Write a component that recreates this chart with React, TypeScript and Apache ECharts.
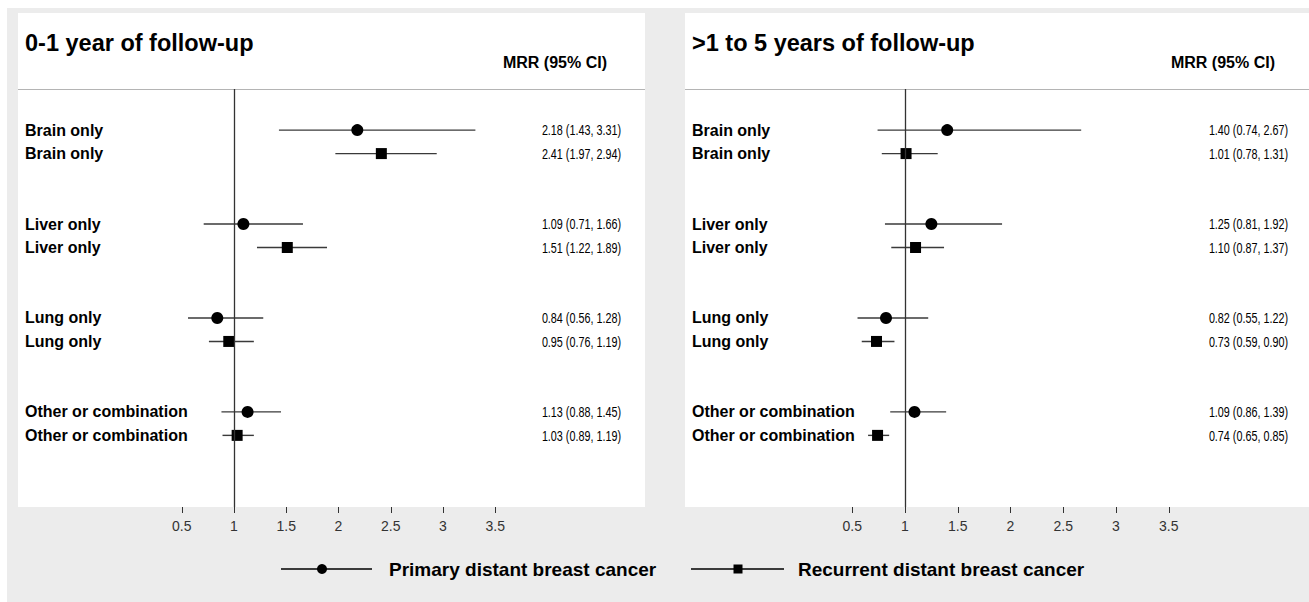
import React, { useEffect, useRef } from "react";
import * as echarts from "echarts";

// ---- data ----
const categories = ["Brain only", "Liver only", "Lung only", "Other or combination"];
const groups = ["Primary distant breast cancer", "Recurrent distant breast cancer"];
const panelTitles = ["0-1 year of follow-up", ">1 to 5 years of follow-up"];
const columnHeader = "MRR (95% CI)";
const xTicks = [0.5, 1, 1.5, 2, 2.5, 3, 3.5];

// 0-1 year
const early_primary_mrr = [2.18, 1.09, 0.84, 1.13];
const early_primary_lo = [1.43, 0.71, 0.56, 0.88];
const early_primary_hi = [3.31, 1.66, 1.28, 1.45];
const early_recurrent_mrr = [2.41, 1.51, 0.95, 1.03];
const early_recurrent_lo = [1.97, 1.22, 0.76, 0.89];
const early_recurrent_hi = [2.94, 1.89, 1.19, 1.19];

// >1 to 5 years
const late_primary_mrr = [1.40, 1.25, 0.82, 1.09];
const late_primary_lo = [0.74, 0.81, 0.55, 0.86];
const late_primary_hi = [2.67, 1.92, 1.22, 1.39];
const late_recurrent_mrr = [1.01, 1.10, 0.73, 0.74];
const late_recurrent_lo = [0.78, 0.87, 0.59, 0.65];
const late_recurrent_hi = [1.31, 1.37, 0.90, 0.85];

const panels = [
  {
    est: [early_primary_mrr, early_recurrent_mrr],
    lo: [early_primary_lo, early_recurrent_lo],
    hi: [early_primary_hi, early_recurrent_hi],
  },
  {
    est: [late_primary_mrr, late_recurrent_mrr],
    lo: [late_primary_lo, late_recurrent_lo],
    hi: [late_primary_hi, late_recurrent_hi],
  },
];

// ---- layout ----
const FONT = '"Liberation Sans", Arial, Helvetica, sans-serif';
const INK = "#333333";
const layout = [
  { panelX: 18, panelW: 627, gridLeft: 129.5, gridW: 418, labelX: 25, valueRight: 621, headerRight: 607 },
  { panelX: 685, panelW: 624, gridLeft: 799.5, gridW: 422, labelX: 692, valueRight: 1288, headerRight: 1275 },
];
const panelTop = 13;
const panelBottom = 507;
const gridTop = 89;

const fmt = (v: number) => v.toFixed(2);

export default function App() {
  const ref = useRef<HTMLDivElement>(null);
  useEffect(() => {
    if (!ref.current) return;
    const chart = echarts.init(ref.current, undefined, { renderer: "svg" });

    const grids: any[] = [];
    const xAxes: any[] = [];
    const yAxes: any[] = [];
    const series: any[] = [];
    const graphics: any[] = [];

    graphics.push({
      type: "rect",
      shape: { x: 7, y: 8, width: 1302, height: 594 },
      style: { fill: "#ececec" },
      z: -10,
    });

    layout.forEach((L, pi) => {
      graphics.push({
        type: "rect",
        shape: { x: L.panelX, y: panelTop, width: L.panelW, height: panelBottom - panelTop },
        style: { fill: "#ffffff" },
        z: -9,
      });
      graphics.push({
        type: "line",
        shape: { x1: L.panelX, y1: gridTop + 0.5, x2: L.panelX + L.panelW, y2: gridTop + 0.5 },
        style: { stroke: "#b4b4b4", lineWidth: 1 },
        z: -8,
      });
      graphics.push({
        type: "text",
        x: L.labelX,
        y: 43,
        style: {
          text: panelTitles[pi],
          fontFamily: FONT,
          fontWeight: "bold",
          fontSize: 23.5,
          fill: "#000",
          verticalAlign: "middle",
          align: "left",
        },
      });
      graphics.push({
        type: "text",
        x: L.headerRight,
        y: 62,
        style: {
          text: columnHeader,
          fontFamily: FONT,
          fontWeight: "bold",
          fontSize: 16,
          fill: "#000",
          verticalAlign: "middle",
          align: "right",
        },
      });

      grids.push({ left: L.gridLeft, width: L.gridW, top: gridTop, height: panelBottom - gridTop });
      xAxes.push({
        type: "value",
        gridIndex: pi,
        position: "bottom",
        min: 0,
        max: 4,
        interval: 0.5,
        splitLine: { show: false },
        axisLine: { show: false, onZero: false },
        axisTick: { show: true, customValues: xTicks, length: 6, lineStyle: { color: INK, width: 1 } },
        axisLabel: {
          show: true,
          customValues: xTicks,
          formatter: (v: number) => String(v),
          fontFamily: FONT,
          fontSize: 14,
          color: INK,
          margin: 12,
        },
      });
      yAxes.push({
        type: "value",
        gridIndex: pi,
        inverse: true,
        min: -1.75,
        max: 16.05,
        show: false,
      });

      const P = panels[pi];
      const rows: number[][] = [];
      const meta: { cat: number; g: number }[] = [];
      categories.forEach((_, ci) => {
        groups.forEach((__, g) => {
          rows.push([P.est[g][ci], P.lo[g][ci], P.hi[g][ci], ci * 4 + g, g]);
          meta.push({ cat: ci, g });
        });
      });

      series.push({
        type: "custom",
        xAxisIndex: pi,
        yAxisIndex: pi,
        clip: false,
        data: rows,
        renderItem: (params: any, api: any) => {
          const est = api.value(0);
          const lo = api.value(1);
          const hi = api.value(2);
          const pos = api.value(3);
          const g = api.value(4);
          const m = meta[params.dataIndex];
          const pLo = api.coord([lo, pos]);
          const pHi = api.coord([hi, pos]);
          const pE = api.coord([est, pos]);
          const children: any[] = [
            {
              type: "line",
              shape: { x1: pLo[0], y1: pE[1], x2: pHi[0], y2: pE[1] },
              style: { stroke: "#3a3a3a", lineWidth: 1.4 },
            },
            g === 0
              ? { type: "circle", shape: { cx: pE[0], cy: pE[1], r: 6 }, style: { fill: "#000" } }
              : { type: "rect", shape: { x: pE[0] - 5.5, y: pE[1] - 5.5, width: 11, height: 11 }, style: { fill: "#000" } },
            {
              type: "text",
              x: L.labelX,
              y: pE[1],
              style: {
                text: categories[m.cat],
                fontFamily: FONT,
                fontWeight: "bold",
                fontSize: 16,
                fill: "#000",
                verticalAlign: "middle",
                align: "left",
              },
            },
            {
              type: "text",
              x: L.valueRight,
              y: pE[1],
              scaleX: 0.72,
              style: {
                text: `${fmt(est)} (${fmt(lo)}, ${fmt(hi)})`,
                fontFamily: FONT,
                fontSize: 15,
                fill: "#000",
                verticalAlign: "middle",
                align: "right",
              },
            },
          ];
          return { type: "group", children };
        },
        markLine: {
          silent: true,
          symbol: "none",
          label: { show: false },
          lineStyle: { color: INK, type: "solid", width: 1.3 },
          data: [{ xAxis: 1 }],
        },
      });
    });

    // legend (drawn)
    const legendY = 569;
    graphics.push({
      type: "line",
      shape: { x1: 281, y1: legendY, x2: 372, y2: legendY },
      style: { stroke: "#000", lineWidth: 1.3 },
    });
    graphics.push({ type: "circle", shape: { cx: 322, cy: legendY, r: 5 }, style: { fill: "#000" } });
    graphics.push({
      type: "text",
      x: 389,
      y: legendY,
      style: { text: groups[0], fontFamily: FONT, fontWeight: "bold", fontSize: 19, fill: "#000", verticalAlign: "middle" },
    });
    graphics.push({
      type: "line",
      shape: { x1: 691, y1: legendY, x2: 784, y2: legendY },
      style: { stroke: "#000", lineWidth: 1.3 },
    });
    graphics.push({ type: "rect", shape: { x: 733.5, y: legendY - 4.5, width: 9, height: 9 }, style: { fill: "#000" } });
    graphics.push({
      type: "text",
      x: 798,
      y: legendY,
      style: { text: groups[1], fontFamily: FONT, fontWeight: "bold", fontSize: 19, fill: "#000", verticalAlign: "middle" },
    });

    chart.setOption({
      animation: false,
      backgroundColor: "#ffffff",
      textStyle: { fontFamily: FONT },
      grid: grids,
      xAxis: xAxes,
      yAxis: yAxes,
      series,
      graphic: graphics,
    });
    return () => chart.dispose();
  }, []);
  return (
    <div
      ref={ref}
      style={{ position: "fixed", left: 0, top: 0, width: 1309, height: 602 }}
    />
  );
}
